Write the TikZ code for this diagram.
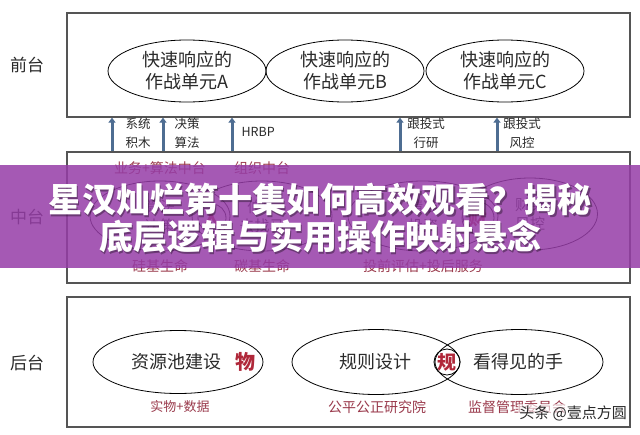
\documentclass[tikz,border=0pt]{standalone}
\usepackage{fontspec}
\setmainfont{Noto Sans CJK SC}
\usetikzlibrary{shapes.geometric,arrows.meta}
\definecolor{boxline}{HTML}{555555}
\definecolor{arrowblue}{HTML}{4E6D92}
\definecolor{redlabel}{HTML}{9A3A4C}
\definecolor{redbold}{HTML}{B0283A}
\definecolor{bannerc}{RGB}{150,61,167}
\definecolor{txt}{HTML}{2A2A2A}
\begin{document}
\begin{tikzpicture}[x=1pt,y=-1pt,
  layerbox/.style={draw=boxline,line width=1.3pt,minimum width=563pt,inner sep=0,rectangle},
  layername/.style={text=txt,font=\fontsize{17}{20}\selectfont},
  unit/.style={draw=black,line width=0.8pt,ellipse,inner sep=0,align=center,text=txt,font=\fontsize{18}{22}\selectfont},
  midell/.style={draw=black,line width=0.8pt,ellipse,inner sep=0,align=center,text=txt,font=\fontsize{15}{19}\selectfont},
  keychar/.style={draw=black,line width=0.8pt,circle,inner sep=0,text=redbold,font=\fontsize{19}{22}\selectfont\bfseries},
  uparrow/.style={draw=arrowblue,line width=3pt,-{Triangle[width=7pt,length=5pt]}},
  arrlabel/.style={text=txt,align=center,font=\fontsize{12.5}{19}\selectfont},
  redtag/.style={text=redlabel,font=\fontsize{14}{17}\selectfont},
  bigtitle/.style={text=white,font=\fontsize{34}{38}\selectfont\bfseries}
]
\useasboundingbox (0,0) rectangle (640,434);
\fill[white] (0,0) rectangle (640,434);

% layer boxes
\node[layerbox,minimum height=104pt] (front) at (348.5,65) {};
\node[layerbox,minimum height=131pt] (mid) at (348.5,217.5) {};
\node[layerbox,minimum height=130pt] (back) at (348.5,362) {};

\node[layername] (l1) at (27,65) {前台};
\node[layername] (l2) at (27,217) {中台};
\node[layername] (l3) at (27,363) {后台};

% front units
\node[unit,minimum width=158pt,minimum height=62pt] (ua) at (187,71) {快速响应的\\作战单元A};
\node[unit,minimum width=158pt,minimum height=62pt] (ub) at (345,71) {快速响应的\\作战单元B};
\node[unit,minimum width=158pt,minimum height=62pt] (uc) at (505,71) {快速响应的\\作战单元C};

% arrows
\coordinate (a1) at (112,0);
\coordinate (a2) at (163,0);
\coordinate (a3) at (232,0);
\coordinate (a4) at (400,0);
\coordinate (a5) at (497,0);
\foreach \a in {a1,a2,a3,a4,a5}
  \draw[uparrow] (mid.north -| \a) -- (front.south -| \a);
\node[arrlabel] (t1) at (138,133) {系统\\积木};
\node[arrlabel] (t2) at (187,133) {决策\\算法};
\node[arrlabel,anchor=west] (t3) at (238,132) {HRBP};
\node[arrlabel] (t4) at (426,133) {跟投式\\行研};
\node[arrlabel] (t5) at (522,133) {跟投式\\风控};

% middle layer
\node[redtag] (m1) at (160,168) {业务+算法中台};
\node[redtag] (m2) at (262,168) {组织中台};
\node[midell,minimum width=140pt,minimum height=70pt] (e1) at (160,216) {算法\\决策};
\node[midell,minimum width=140pt,minimum height=70pt] (e2) at (262,216) {伯乐\\去找马};
\node[keychar,minimum size=28pt] (k1) at (212,218) {人};
\node[midell,minimum width=150pt,minimum height=70pt] (e3) at (423,216) {精准\\投资};
\node[midell,minimum width=135pt,minimum height=72pt] (e4) at (530,214) {财务\\风控};
\node[keychar,minimum size=32pt] (k2) at (478,218) {财};
\node[redtag] (m3) at (160,266) {硅基生命};
\node[redtag] (m4) at (262,266) {碳基生命};
\node[redtag] (m5) at (423,266) {投前评估+投后服务};

% back layer
\node[unit,minimum width=170pt,minimum height=63pt] (e5) at (178,362) {};
\node[text=txt,font=\fontsize{18}{22}\selectfont] (r1) at (176,362) {资源池建设};
\node[text=redbold,font=\fontsize{20}{22}\selectfont\bfseries] (r2) at (245,362) {物};
\node[unit,minimum width=168pt,minimum height=65pt] (e6) at (376,362) {};
\node[unit,minimum width=168pt,minimum height=65pt] (e7) at (519,362) {};
\node[text=txt,font=\fontsize{18}{22}\selectfont] (r3) at (375,362) {规则设计};
\node[text=txt,font=\fontsize{18}{22}\selectfont] (r4) at (518,362) {看得见的手};
\node[keychar,minimum size=26pt] (k3) at (447,362) {规};
\node[redtag,font=\fontsize{13}{16}\selectfont] (b1) at (180,407) {实物+数据};
\node[redtag] (b2) at (377,407) {公平公正研究院};
\node[redtag] (b3) at (517,407) {监督管理委员会};

% banner
\fill[bannerc,fill opacity=0.85] (0,165) rectangle (640,268);
\node[bigtitle,text=black,opacity=0.35] (s1) at (321.5,201.5) {星汉灿烂第十集如何高效观看？揭秘};
\node[bigtitle,text=black,opacity=0.35] (s2) at (321.5,238.5) {底层逻辑与实用操作映射悬念};
\node[bigtitle] (h1) at (320,200) {星汉灿烂第十集如何高效观看？揭秘};
\node[bigtitle] (h2) at (320,237) {底层逻辑与实用操作映射悬念};

% watermark
\node[anchor=east,text=txt,font=\fontsize{15}{18}\selectfont,fill=white,fill opacity=0.6,text opacity=1,inner sep=1pt] (wm) at (628,413) {头条 @壹点方圆};
\end{tikzpicture}
\end{document}
